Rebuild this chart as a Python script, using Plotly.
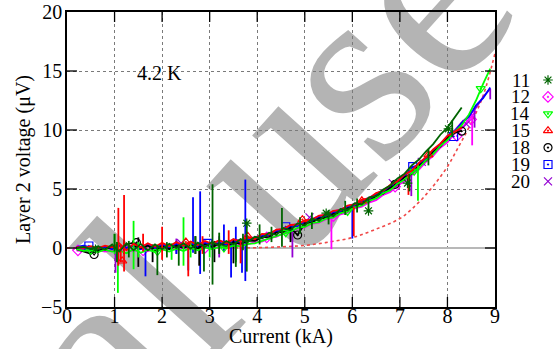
import plotly.graph_objects as go

W, H = 556, 349
# plot rectangle in pixels
PL, PR, PT, PB = 67, 495, 12, 307
X_RANGE = [0, 9]
Y_RANGE = [-5, 20]
X_TICKS = [0, 1, 2, 3, 4, 5, 6, 7, 8, 9]
Y_TICKS = [-5, 0, 5, 10, 15, 20]

CURRENT = [0.2, 0.35, 0.5, 0.65, 0.8, 0.95, 1.1, 1.25, 1.4, 1.55,
           1.7, 1.85, 2.0, 2.15, 2.3, 2.45, 2.6, 2.75, 2.9, 3.05,
           3.2, 3.35, 3.5, 3.65, 3.8, 3.95, 4.1, 4.25, 4.4, 4.55,
           4.7, 4.85, 5.0, 5.15, 5.3, 5.45, 5.6, 5.75, 5.9, 6.05,
           6.2, 6.35, 6.5, 6.65, 6.8, 6.95, 7.1, 7.25, 7.4, 7.55,
           7.7, 7.85, 8.0, 8.15, 8.3, 8.45, 8.6, 8.75, 8.9]

V11 = [0.0, 0.1, -0.1, 0.15, -0.15, 0.3, -0.3, 0.4, -0.2, 0.35,
       -0.2, 0.3, -0.1, 0.35, 0.0, 0.4, -0.05, 0.45, 0.1, 0.5,
       0.2, 0.6, 0.3, 0.75, 0.5, 0.95, 0.8, 1.3, 1.1, 1.7,
       1.5, 2.1, 1.9, 2.5, 2.3, 2.9, 2.7, 3.3, 3.2, 3.8,
       3.7, 4.3, 4.4, 4.95, 5.3, 5.9, 6.3, 7.0, 7.5, 8.2,
       8.8, 9.6, 10.2, 11.0, 11.9]
V12 = [-0.2, -0.3, -0.35, -0.2, -0.3, -0.15, -0.25, -0.1, -0.3, -0.05,
       -0.25, -0.1, -0.2, 0.0, -0.15, 0.0, -0.1, 0.05, 0.0, 0.1,
       0.05, 0.15, 0.1, 0.3, 0.3, 0.5, 0.55, 0.85, 0.95, 1.25,
       1.35, 1.65, 1.75, 2.05, 2.15, 2.45, 2.55, 2.85, 3.0, 3.35,
       3.5, 3.85, 4.05, 4.5, 4.75, 5.3, 5.65, 6.2, 6.65, 7.3,
       7.8, 8.5, 8.95, 9.7, 10.15, 10.9, 11.6]
V14 = [-0.1, -0.25, -0.2, -0.35, -0.15, -0.3, -0.2, -0.45, -0.1, -0.4,
       -0.15, -0.35, -0.1, -0.3, -0.05, -0.25, 0.0, -0.2, 0.05, -0.1,
       0.1, 0.0, 0.2, 0.15, 0.35, 0.4, 0.6, 0.8, 1.0, 1.25,
       1.4, 1.7, 1.8, 2.1, 2.2, 2.5, 2.6, 2.95, 3.1, 3.45,
       3.6, 4.0, 4.2, 4.65, 4.9, 5.45, 5.8, 6.35, 6.8, 7.45,
       7.95, 8.65, 9.15, 9.85, 10.4, 11.3, 12.5, 13.9, 15.2]
V15 = [0.1, 0.0, 0.15, 0.0, 0.2, 0.05, 0.4, -0.2, 0.35, 0.05,
       0.4, 0.1, 0.45, 0.15, 0.5, 0.2, 0.55, 0.25, 0.6, 0.35,
       0.65, 0.4, 0.75, 0.55, 0.95, 0.75, 1.2, 1.15, 1.55, 1.6,
       1.95, 2.0, 2.35, 2.4, 2.75, 2.8, 3.15, 3.2, 3.6, 3.7,
       4.1, 4.2, 4.65, 4.85, 5.35, 5.65, 6.25, 6.55, 7.2, 7.7,
       8.35, 8.85, 9.5, 9.85, 10.2]
V18 = [-0.1, -0.3, -0.5, -0.2, -0.1, 0.1, -0.2, 0.3, 0.45, 0.0,
       0.2, -0.2, 0.15, -0.1, 0.2, 0.0, 0.25, -0.05, 0.3, 0.1,
       0.35, 0.15, 0.45, 0.35, 0.6, 0.6, 0.9, 0.95, 1.3, 1.35,
       1.7, 1.1, 2.1, 2.15, 2.5, 2.55, 2.9, 2.95, 3.35, 3.45,
       3.85, 3.95, 4.4, 4.6, 5.1, 5.4, 6.0, 6.3, 7.0, 7.4,
       8.15, 8.6, 9.35, 9.75, 9.95]
V19 = [0.1, 0.2, 0.05, 0.0, 0.1, -0.1, 0.2, 0.0, 0.15, -0.1,
       0.2, 0.0, 0.25, 0.05, 0.3, 0.1, 0.35, 0.1, 0.4, 0.2,
       0.45, 0.3, 0.55, 0.45, 0.75, 0.7, 1.0, 1.1, 1.4, 1.5,
       1.8, 1.85, 2.2, 2.25, 2.6, 2.65, 3.0, 3.1, 3.45, 3.6,
       3.95, 4.1, 4.5, 4.75, 5.2, 5.55, 6.1, 6.8, 7.1, 7.6,
       8.25, 8.75, 9.45, 9.85, 10.6, 11.1, 12.1, 12.7, 13.6]
V20 = [0.0, -0.1, 0.05, -0.15, 0.1, 0.0, 0.2, 0.05, 0.25, 0.1,
       0.3, 0.1, 0.3, 0.15, 0.4, 0.2, 0.45, 0.25, 0.5, 0.35,
       0.6, 0.45, 0.7, 0.65, 0.85, 0.9, 1.1, 1.25, 1.5, 1.65,
       1.9, 2.05, 2.3, 2.45, 2.7, 2.85, 3.1, 3.25, 3.55, 3.75,
       4.05, 4.25, 4.6, 4.9, 5.3, 5.7, 6.2, 6.55, 7.2, 7.65,
       8.3, 8.8, 9.5, 9.95, 10.65, 11.2, 11.9, 12.8, 13.5]

# voltage spikes: (current, low, high)
SPIKES_11 = [(1.0, -0.3, 1.2), (1.05, -1.2, 0.5), (1.3, -0.8, 0.6), (1.9, -2.3, 0.2),
             (2.1, -0.8, 0.5), (2.35, -1.5, 0.3), (2.7, -0.5, 1.0), (2.88, -2.0, 0.2),
             (3.06, -3.1, 5.4), (3.2, -0.5, 1.3), (3.55, -1.6, 0.4), (3.7, -0.2, 1.2),
             (3.78, -2.0, 2.1), (4.05, 0.3, 2.0), (4.3, 0.5, 1.8), (4.52, 0.1, 3.4),
             (4.9, 1.2, 2.6), (5.15, 1.6, 3.0), (5.5, 2.0, 3.2), (5.85, 2.8, 4.0),
             (6.1, 3.0, 4.2), (6.34, 3.15, 4.2), (7.2, 4.8, 6.3), (7.6, 7.0, 8.4),
             (8.1, 9.4, 10.8)]
SPIKES_12 = [(5.56, -0.1, 2.9), (8.52, 8.7, 11.2)]
SPIKES_14 = [(1.0, -0.5, 1.2), (1.07, -3.8, 0.3), (1.4, -1.8, 2.3), (1.5, -0.8, 0.5),
             (2.2, -1.0, 0.4), (2.45, -1.5, 2.6), (2.6, -0.8, 0.6), (3.0, -0.8, 0.3),
             (3.55, -1.2, 0.3), (7.38, 4.0, 7.2)]
SPIKES_15 = [(1.08, -1.5, 3.4), (1.13, -1.2, 0.3), (1.2, -2.0, 4.5), (1.6, -0.3, 1.2),
             (2.0, -1.0, 1.8), (2.55, -2.4, 0.3), (2.85, -0.5, 1.0), (3.4, -0.5, 1.5),
             (3.65, -1.3, 0.5), (6.03, 1.0, 3.5), (7.18, 4.5, 6.3)]
SPIKES_18 = [(1.2, -0.5, 0.7), (1.5, -1.6, 0.9), (1.8, -1.2, 0.3), (2.7, -0.5, 1.0),
             (2.78, -1.5, 0.2), (3.1, -1.2, 0.6), (3.5, -1.3, 0.8), (4.7, 0.5, 1.8)]
SPIKES_19 = [(1.65, -2.4, 0.3), (2.3, -0.5, 0.6), (2.55, -1.9, 0.5), (2.65, -0.4, 4.3),
             (2.8, -2.2, 4.8), (3.3, -0.3, 2.0), (3.45, -2.5, 0.4), (3.55, -1.0, 1.8),
             (3.68, -2.1, 0.5), (3.75, -2.8, 5.8), (6.0, 0.8, 3.6)]
SPIKES_20 = [(1.02, -2.1, 0.3), (2.3, -0.5, 0.8), (3.2, -0.8, 1.0), (4.74, -0.8, 1.8),
             (7.24, 4.4, 6.6), (8.57, 10.2, 11.8), (8.9, 12.6, 13.5)]

# point markers (current, voltage)
MARK_11 = ([0.6, 3.78, 5.45, 6.34, 7.16, 8.02], [-0.1, 2.1, 2.95, 3.15, 5.5, 10.1])
MARK_12 = ([0.23, 1.6, 2.9, 4.2, 5.6, 6.9, 8.2, 8.5], [-0.2, -0.2, 0.0, 0.9, 2.7, 5.2, 9.5, 10.9])
MARK_14 = ([0.5, 1.9, 3.3, 4.6, 5.9, 7.3, 8.7], [-0.2, -0.3, 0.0, 1.3, 3.1, 6.5, 13.5])
MARK_15 = ([1.16, 2.5, 3.8, 4.95, 6.2, 7.6], [-1.1, 0.5, 1.0, 2.4, 4.0, 7.9])
MARK_18 = ([0.57, 1.46, 4.85, 6.9, 8.3], [-0.55, 0.45, 1.1, 5.4, 9.9])
MARK_19 = ([0.46, 2.95, 4.6, 7.27, 8.13], [0.17, 0.4, 1.8, 6.9, 9.45])
MARK_20 = ([2.4, 5.1, 6.85, 7.46, 8.4], [0.4, 2.6, 5.5, 7.3, 10.5])

FIT_X = [0.0, 1.0, 2.0, 3.0, 3.5, 4.0, 4.5, 5.0, 5.5, 6.0, 6.5, 7.0, 7.25, 7.5,
         7.75, 8.0, 8.25, 8.5, 8.75, 9.0]
FIT_Y = [0.0, 0.0, 0.0, 0.0, 0.01, 0.03, 0.1, 0.22, 0.5, 0.88, 1.6, 2.5, 3.3, 4.3,
         5.5, 6.9, 8.7, 10.6, 12.9, 16.5]

NAMES = ["11", "12", "14", "15", "18", "19", "20"]
COLORS = {"11": "#006400", "12": "#ff00ff", "14": "#00ff00", "15": "#ff0000",
          "18": "#000000", "19": "#0000ff", "20": "#9400d3"}
SYMBOLS = {"11": "asterisk-open", "12": "diamond-open-dot", "14": "triangle-down-open-dot",
           "15": "triangle-up-open-dot", "18": "circle-open-dot", "19": "square-open-dot",
           "20": "x-thin-open"}
SERIES = {"11": (V11, SPIKES_11, MARK_11), "12": (V12, SPIKES_12, MARK_12),
          "14": (V14, SPIKES_14, MARK_14), "15": (V15, SPIKES_15, MARK_15),
          "18": (V18, SPIKES_18, MARK_18), "19": (V19, SPIKES_19, MARK_19),
          "20": (V20, SPIKES_20, MARK_20)}
DRAW_ORDER = ["12", "20", "19", "18", "14", "15", "11"]

FONT = "Liberation Serif"
LW = 1.8
TICK_PX = 10

fig = go.Figure()

fig.add_trace(go.Scatter(x=FIT_X, y=FIT_Y, mode="lines",
                         line=dict(color="#f04848", width=1.6, dash="dot", shape="spline"),
                         showlegend=False, hoverinfo="skip"))

for name in DRAW_ORDER:
    vals, spikes, marks = SERIES[name]
    col = COLORS[name]
    xs = CURRENT[:len(vals)]
    fig.add_trace(go.Scatter(x=xs, y=vals, mode="lines", line=dict(color=col, width=LW),
                             showlegend=False, hoverinfo="skip"))
    sx, sy = [], []
    for (cx, lo, hi) in spikes:
        sx += [cx, cx, None]
        sy += [lo, hi, None]
    fig.add_trace(go.Scatter(x=sx, y=sy, mode="lines", line=dict(color=col, width=LW),
                             showlegend=False, hoverinfo="skip"))
    fig.add_trace(go.Scatter(x=marks[0], y=marks[1], mode="markers",
                             marker=dict(symbol=SYMBOLS[name], size=8, color=col,
                                         line=dict(color=col, width=1.2)),
                             showlegend=False, hoverinfo="skip"))

# custom legend (text left, key marker right) on a pixel-scaled overlay axis
LEG_Y0, LEG_DY = 80, 16.9
leg_px_y = [LEG_Y0 + i * LEG_DY for i in range(len(NAMES))]
for i, name in enumerate(NAMES):
    fig.add_trace(go.Scatter(x=[548], y=[leg_px_y[i]], xaxis="x2", yaxis="y2", mode="markers",
                             marker=dict(symbol=SYMBOLS[name], size=8, color=COLORS[name],
                                         line=dict(color=COLORS[name], width=1.2)),
                             showlegend=False, hoverinfo="skip"))
    fig.add_annotation(x=532 / W, y=1 - leg_px_y[i] / H, xref="paper", yref="paper",
                       text=name, showarrow=False, xanchor="right", yanchor="middle",
                       font=dict(family=FONT, size=19, color="black"))

# inward tick marks on all four frame sides, drawn on the pixel overlay axis
kx, ky = [], []
for t in X_TICKS[1:-1]:
    px = PL + (t - X_RANGE[0]) / (X_RANGE[1] - X_RANGE[0]) * (PR - PL)
    kx += [px, px, None, px, px, None]
    ky += [PB, PB - TICK_PX, None, PT, PT + TICK_PX, None]
for t in Y_TICKS[1:-1]:
    py = PB - (t - Y_RANGE[0]) / (Y_RANGE[1] - Y_RANGE[0]) * (PB - PT)
    kx += [PL, PL + TICK_PX, None, PR, PR - TICK_PX, None]
    ky += [py, py, None, py, py, None]
fig.add_trace(go.Scatter(x=kx, y=ky, xaxis="x2", yaxis="y2", mode="lines",
                         line=dict(color="black", width=1.3), showlegend=False, hoverinfo="skip"))

tickfont = dict(family=FONT, size=20, color="black")
axis_common = dict(showline=True, linecolor="black", linewidth=1.5, mirror=True, ticks="",
                   showgrid=True, gridcolor="#7a7a7a", gridwidth=1, griddash="dot",
                   tickfont=tickfont, automargin=False)

fig.update_layout(
    width=W, height=H, margin=dict(l=0, r=0, t=0, b=0),
    paper_bgcolor="white", plot_bgcolor="rgba(0,0,0,0)",
    template="none", showlegend=False,
    xaxis=dict(range=X_RANGE, tickvals=X_TICKS, domain=[PL / W, PR / W], zeroline=False,
               ticklabelstandoff=-10, **axis_common),
    yaxis=dict(range=Y_RANGE, tickvals=Y_TICKS, domain=[1 - PB / H, 1 - PT / H],
               zeroline=True, zerolinecolor="#b8b8b8", zerolinewidth=2,
               ticklabelstandoff=-1, **axis_common),
    xaxis2=dict(domain=[0, 1], range=[0, W], visible=False, anchor="y2"),
    yaxis2=dict(domain=[0, 1], range=[H, 0], visible=False, anchor="x2"),
)

fig.add_annotation(x=1.95, y=14.85, xref="x", yref="y", text="4.2 K", showarrow=False,
                   font=dict(family=FONT, size=20, color="black"))
fig.add_annotation(x=(PL + PR) / 2 / W, y=1 - 336 / H, xref="paper", yref="paper",
                   text="Current (kA)", showarrow=False, xanchor="center", yanchor="middle",
                   font=dict(family=FONT, size=20, color="black"))
fig.add_annotation(x=23 / W, y=1 - 160 / H, xref="paper", yref="paper",
                   text="Layer 2 voltage (μV)", showarrow=False, textangle=-90,
                   xanchor="center", yanchor="middle",
                   font=dict(family=FONT, size=20, color="black"))

# background watermark
WM_CX, WM_CY = 238, 156
fig.add_shape(type="rect", xref="paper", yref="paper", layer="below",
              x0=(WM_CX - 5) / W, x1=(WM_CX + 5) / W, y0=1 - (WM_CY + 5) / H, y1=1 - (WM_CY - 5) / H,
              line=dict(width=0), fillcolor="rgba(0,0,0,0)",
              label=dict(text="al use", textangle=-48, textposition="middle center",
                         font=dict(family=FONT, size=262, color="#b4b4b4")))

fig.write_html("out.html")
